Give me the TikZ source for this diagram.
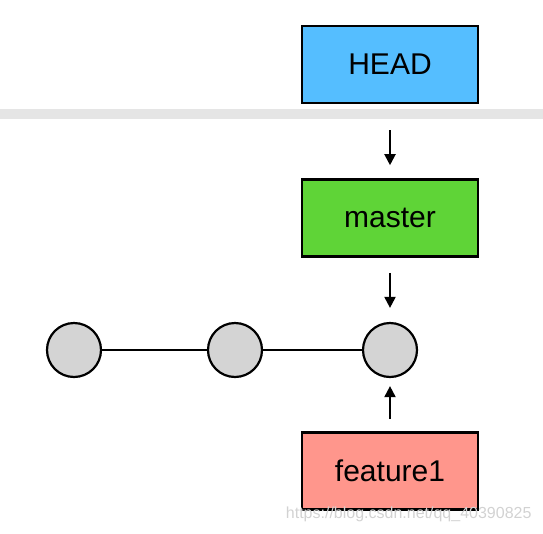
\documentclass[tikz,border=0pt]{standalone}
\usepackage{fontspec}
\setmainfont{Liberation Sans}
\usetikzlibrary{positioning,arrows.meta}
\definecolor{headblue}{RGB}{85,190,255}
\definecolor{mastergreen}{RGB}{95,212,55}
\definecolor{featurered}{RGB}{255,150,140}
\definecolor{commitgray}{RGB}{212,212,212}
\definecolor{bandgray}{RGB}{229,229,229}

\begin{document}
\begin{tikzpicture}[
  x=1pt, y=-1pt,
  ref/.style={
    rectangle, draw=black, line width=2.6pt,
    minimum width=176pt, minimum height=77pt,
    font=\fontsize{30}{35}\selectfont, inner sep=0pt
  },
  commit/.style={
    circle, draw=black, line width=2.2pt, fill=commitgray,
    minimum size=54pt, inner sep=0pt
  },
  arr/.style={-{Triangle[length=11pt,width=11pt]}, line width=2pt},
  link/.style={line width=2pt}
]
\useasboundingbox (0,0) rectangle (543,533);

% Separator band
\fill[bandgray] (0,109) rectangle (543,119);

% References
\node[ref, fill=headblue] (head) at (390,64.5) {HEAD};
\node[ref, fill=mastergreen] (master) at (390,218) {master};
\node[ref, fill=featurered] (feature) at (390,471) {feature1};

% Commits
\node[commit] (c1) at (74,350) {};
\node[commit] (c2) at (235,350) {};
\node[commit] (c3) at (390,350) {};

% History
\draw[link] (c1) -- (c2);
\draw[link] (c2) -- (c3);

% Pointers
\draw[arr, shorten <=26pt, shorten >=13pt] (head) -- (master);
\draw[arr, shorten <=15pt, shorten >=14pt] (master) -- (c3);
\draw[arr, shorten <=12pt, shorten >=8pt] (feature) -- (c3);

% Watermark
\node[gray!35, font=\fontsize{16}{18}\selectfont, anchor=east] (mark) at (535,514)
  {https://blog.csdn.net/qq\_40390825};

\end{tikzpicture}
\end{document}
